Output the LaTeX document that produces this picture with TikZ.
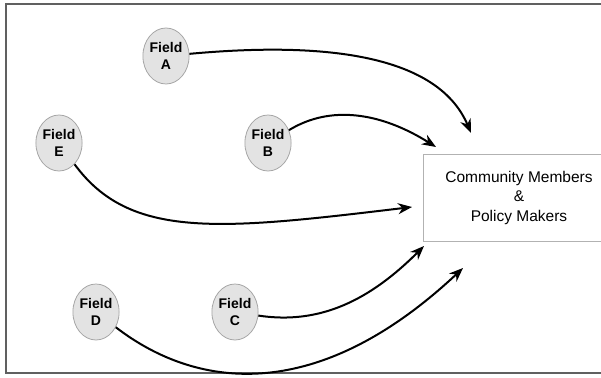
\documentclass[tikz,border=0pt]{standalone}
\usepackage{fontspec}
\setmainfont{Liberation Sans}
\usetikzlibrary{shapes.geometric,arrows.meta}

\begin{document}
\begin{tikzpicture}[x=1pt, y=-1pt,
    field/.style={ellipse, draw=gray!70, fill=gray!22, line width=0.8pt,
      minimum width=44pt, minimum height=56pt, inner sep=0pt, align=center,
      font=\fontsize{14}{17.5}\selectfont\bfseries},
    target/.style={rectangle, draw=gray!60, line width=0.8pt,
      minimum width=192pt, minimum height=87pt, align=center,
      font=\fontsize{15.5}{19.5}\selectfont},
    flow/.style={line width=2pt, -{Stealth[length=14pt,width=11pt]}}]
    \useasboundingbox (0,0) rectangle (601,377);
    \draw[gray!75!black, line width=1.4pt] (610,4) -- (6,4) -- (6,373) -- (610,373);

    \node[field] (A) at (166,56) {Field\\A};
    \node[field] (E) at (59,143) {Field\\E};
    \node[field] (B) at (268,143) {Field\\B};
    \node[field] (D) at (96,312) {Field\\D};
    \node[field] (C) at (235,312) {Field\\C};
    \node[target] (cpm) at (519,197.5) {Community Members\\\&\\Policy Makers};

    \coordinate (tipA) at (471,133);
    \coordinate (tipB) at (436,147);
    \coordinate (tipE) at (412,207);
    \coordinate (tipC) at (424,246);
    \coordinate (tipD) at (463,268);

    \draw[flow] (A) .. controls (340,40) and (440,60) .. (tipA);
    \draw[flow] (B) .. controls (330,105) and (380,112) .. (tipB);
    \draw[flow] (E) .. controls (130,240) and (220,230) .. (tipE);
    \draw[flow] (C) .. controls (320,325) and (370,300) .. (tipC);
    \draw[flow] (D) .. controls (200,392) and (320,402) .. (tipD);
  \end{tikzpicture}
\end{document}
